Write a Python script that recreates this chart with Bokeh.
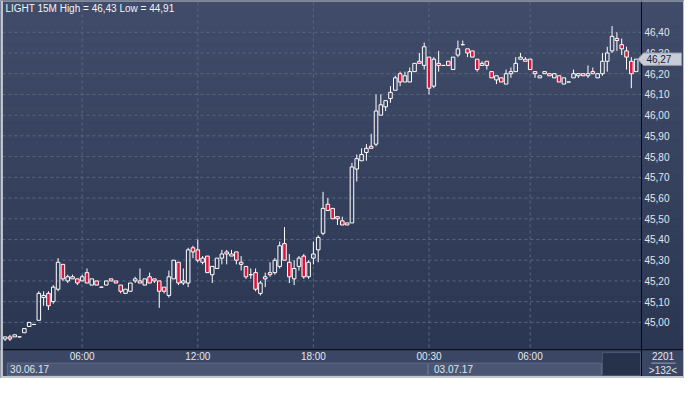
import numpy as np
from bokeh.plotting import figure
from bokeh.models import Range1d
from bokeh.embed import file_html
from bokeh.resources import INLINE
from bokeh.core.properties import value

# ---------------- data (15-minute candles, LIGHT) ----------------
open_ = [44.92, 44.93, 44.93, 44.93, 44.95, 44.98, 44.99, 45.01, 45.12, 45.14,
         45.10, 45.16, 45.28, 45.20, 45.21, 45.21, 45.20, 45.24, 45.18, 45.20,
         45.17, 45.18, 45.21, 45.20, 45.18, 45.14, 45.15, 45.20, 45.20, 45.18,
         45.22, 45.21, 45.20, 45.17, 45.13, 45.21, 45.29, 45.19, 45.19, 45.36,
         45.35, 45.29, 45.32, 45.23, 45.26, 45.31, 45.34, 45.32, 45.34, 45.29,
         45.27, 45.23, 45.24, 45.14, 45.21, 45.24, 45.24, 45.27, 45.38, 45.29,
         45.21, 45.27, 45.32, 45.22, 45.31, 45.35, 45.43, 45.57, 45.55, 45.51,
         45.49, 45.48, 45.48, 45.74, 45.78, 45.82, 45.85, 45.86, 46.00, 46.04,
         46.08, 46.12, 46.20, 46.16, 46.16, 46.21, 46.26, 46.24, 46.28, 46.14,
         46.25, 46.24, 46.26, 46.22, 46.29, 46.34, 46.32, 46.31, 46.27, 46.24,
         46.26, 46.21, 46.17, 46.18, 46.15, 46.20, 46.21, 46.27, 46.27, 46.27,
         46.21, 46.18, 46.20, 46.20, 46.18, 46.19, 46.15, 46.16, 46.18, 46.19,
         46.20, 46.19, 46.21, 46.18, 46.20, 46.26, 46.31, 46.37, 46.34, 46.31,
         46.26, 46.21]
high = [44.93, 44.94, 44.94, 44.93, 44.97, 45.00, 44.99, 45.15, 45.15, 45.15,
        45.18, 45.31, 45.28, 45.23, 45.23, 45.21, 45.23, 45.26, 45.21, 45.20,
        45.17, 45.20, 45.21, 45.20, 45.18, 45.16, 45.19, 45.22, 45.26, 45.21,
        45.24, 45.21, 45.20, 45.17, 45.25, 45.30, 45.29, 45.26, 45.36, 45.37,
        45.40, 45.32, 45.32, 45.27, 45.31, 45.35, 45.35, 45.35, 45.34, 45.32,
        45.27, 45.26, 45.26, 45.20, 45.24, 45.29, 45.31, 45.39, 45.46, 45.33,
        45.30, 45.32, 45.33, 45.30, 45.39, 45.42, 45.63, 45.60, 45.55, 45.51,
        45.51, 45.48, 45.77, 45.81, 45.84, 45.86, 45.91, 46.10, 46.10, 46.07,
        46.14, 46.19, 46.21, 46.21, 46.23, 46.25, 46.30, 46.35, 46.28, 46.28,
        46.31, 46.24, 46.26, 46.28, 46.36, 46.36, 46.32, 46.31, 46.27, 46.26,
        46.26, 46.21, 46.19, 46.18, 46.22, 46.23, 46.28, 46.30, 46.28, 46.27,
        46.21, 46.19, 46.21, 46.20, 46.20, 46.19, 46.18, 46.16, 46.22, 46.20,
        46.20, 46.24, 46.23, 46.20, 46.30, 46.33, 46.43, 46.40, 46.37, 46.33,
        46.28, 46.27]
low = [44.91, 44.91, 44.93, 44.93, 44.95, 44.98, 44.99, 45.01, 45.08, 45.06,
       45.09, 45.15, 45.20, 45.19, 45.21, 45.18, 45.20, 45.19, 45.18, 45.18,
       45.17, 45.18, 45.20, 45.19, 45.14, 45.14, 45.15, 45.19, 45.19, 45.18,
       45.19, 45.19, 45.07, 45.14, 45.12, 45.21, 45.18, 45.18, 45.17, 45.31,
       45.29, 45.28, 45.24, 45.19, 45.26, 45.28, 45.28, 45.32, 45.28, 45.25,
       45.21, 45.21, 45.15, 45.13, 45.17, 45.22, 45.23, 45.26, 45.30, 45.19,
       45.18, 45.25, 45.21, 45.21, 45.28, 45.29, 45.42, 45.54, 45.50, 45.47,
       45.47, 45.47, 45.48, 45.68, 45.78, 45.78, 45.84, 45.85, 46.00, 46.02,
       46.06, 46.12, 46.14, 46.16, 46.16, 46.21, 46.25, 46.22, 46.10, 46.13,
       46.21, 46.24, 46.24, 46.22, 46.28, 46.34, 46.28, 46.28, 46.21, 46.24,
       46.22, 46.18, 46.15, 46.16, 46.15, 46.18, 46.21, 46.27, 46.26, 46.22,
       46.18, 46.18, 46.20, 46.19, 46.18, 46.16, 46.15, 46.16, 46.18, 46.18,
       46.19, 46.18, 46.20, 46.18, 46.19, 46.21, 46.30, 46.31, 46.29, 46.22,
       46.13, 46.21]
close = [44.93, 44.92, 44.94, 44.93, 44.97, 45.00, 44.99, 45.14, 45.13, 45.08,
         45.17, 45.29, 45.21, 45.22, 45.22, 45.19, 45.22, 45.19, 45.21, 45.18,
         45.17, 45.20, 45.20, 45.19, 45.15, 45.16, 45.19, 45.21, 45.19, 45.21,
         45.19, 45.20, 45.15, 45.15, 45.22, 45.30, 45.19, 45.20, 45.35, 45.34,
         45.30, 45.31, 45.24, 45.27, 45.31, 45.33, 45.33, 45.33, 45.30, 45.28,
         45.22, 45.23, 45.16, 45.19, 45.22, 45.23, 45.30, 45.37, 45.30, 45.22,
         45.26, 45.31, 45.22, 45.29, 45.33, 45.41, 45.55, 45.54, 45.50, 45.50,
         45.47, 45.47, 45.75, 45.79, 45.81, 45.84, 45.84, 46.02, 46.05, 46.07,
         46.11, 46.18, 46.16, 46.19, 46.21, 46.25, 46.25, 46.33, 46.13, 46.27,
         46.24, 46.24, 46.24, 46.28, 46.32, 46.34, 46.30, 46.28, 46.22, 46.25,
         46.24, 46.18, 46.19, 46.16, 46.20, 46.21, 46.25, 46.28, 46.26, 46.22,
         46.20, 46.19, 46.21, 46.19, 46.20, 46.16, 46.18, 46.16, 46.20, 46.20,
         46.19, 46.20, 46.20, 46.20, 46.26, 46.30, 46.38, 46.36, 46.32, 46.28,
         46.20, 46.27]

symbol = "LIGHT 15M"
y_ticks = [45.0, 45.1, 45.2, 45.3, 45.4, 45.5, 45.6, 45.7, 45.8, 45.9,
           46.0, 46.1, 46.2, 46.3, 46.4]
x_tick_idx = [16, 40, 64, 88, 109]
x_tick_labels = ["06:00", "12:00", "18:00", "00:30", "06:00"]
date_start_idx = [0, 88]
date_labels = ["30.06.17", "03.07.17"]
bar_count_label = "2201"

# ---------------- layout constants (reference pixel geometry, 700 x 394) ----------------
W, H = 684, 378
REF_W, REF_H = 700, 394
REF_Y_45 = 335.5      # reference pixel row of 45.00
PX_PER_PRICE = 216.0  # reference pixels per 1.00
REF_X_BAR0 = 4.7      # reference pixel column of first bar
PX_PER_BAR = 4.93
PLOT_R = 656          # right edge of price area (axis line)
PLOT_B = 364          # bottom edge of price area


def fmt(v):
    return f"{v:.2f}".replace(".", ",")


def price_to_ref_y(v):
    return REF_Y_45 - (v - 45.0) * PX_PER_PRICE


o = np.array(open_); h = np.array(high); l = np.array(low); c = np.array(close)
idx = np.arange(len(c))
body_top = np.maximum(o, c)
body_bot = np.minimum(o, c)
up = c >= o

p = figure(width=W, height=H, output_backend="svg", toolbar_location=None,
           x_axis_location=None, y_axis_location=None,
           x_range=Range1d((0 - REF_X_BAR0) / PX_PER_BAR, (REF_W - REF_X_BAR0) / PX_PER_BAR),
           y_range=Range1d(45 + (REF_Y_45 - REF_H) / PX_PER_PRICE, 45 + REF_Y_45 / PX_PER_PRICE),
           min_border_left=0, min_border_top=0, min_border_bottom=0, min_border_right=0,
           background_fill_color="#35415d", border_fill_color="#35415d")
p.outline_line_color = None
p.grid.visible = False
p.extra_x_ranges = {"px": Range1d(0, REF_W)}
p.extra_y_ranges = {"py": Range1d(REF_H, 0)}

# gradient background
n_bands = 40
edges = np.linspace(0, PLOT_B, n_bands + 1)
top_rgb = np.array([0x40, 0x4c, 0x69], dtype=float)
bot_rgb = np.array([0x2b, 0x37, 0x52], dtype=float)
band_cols = ["#%02x%02x%02x" % tuple(int(round(v)) for v in top_rgb + (bot_rgb - top_rgb) * t)
             for t in np.linspace(0, 1, n_bands)]
p.quad(left=0, right=REF_W, top=edges[:-1], bottom=edges[1:], x_range_name="px", y_range_name="py",
       fill_color=band_cols, line_color=band_cols, line_width=1, level="image")

# grid lines (dashed), limited to the price area
grid_col = "#5a6683"
p.segment(x0=2, x1=PLOT_R, y0=y_ticks, y1=y_ticks, x_range_name="px",
          line_color=grid_col, line_dash="3 3", line_width=1, level="underlay")
p.segment(x0=x_tick_idx, x1=x_tick_idx, y0=2, y1=PLOT_B, y_range_name="py",
          line_color=grid_col, line_dash="3 3", line_width=1, level="underlay")

# candles: wicks
p.segment(x0=idx, y0=h, x1=idx, y1=body_top, line_color="white", line_width=1)
p.segment(x0=idx, y0=body_bot, x1=idx, y1=l, line_color="white", line_width=1)
# bodies
hw = 0.37
p.quad(left=idx[up] - hw, right=idx[up] + hw, top=body_top[up], bottom=body_bot[up],
       fill_color=None, line_color="white", line_width=1)
p.quad(left=idx[~up] - hw, right=idx[~up] + hw, top=body_top[~up], bottom=body_bot[~up],
       fill_color="#dc143c", line_color="white", line_width=1)

# bottom time / date rows
p.quad(left=0, right=REF_W, top=PLOT_B, bottom=REF_H, x_range_name="px", y_range_name="py",
       fill_color="#3a4663", line_color=None)
p.quad(left=[7, 438], right=[437, 615], top=378, bottom=391, x_range_name="px", y_range_name="py",
       fill_color="#4a5673", line_color="#5f6b87", line_width=1)
p.quad(left=616, right=655, top=367, bottom=391, x_range_name="px", y_range_name="py",
       fill_color="#26314a", line_color="#4b5773", line_width=1)
# frame lines: horizontal under the price area, vertical axis line
p.segment(x0=0, y0=PLOT_B, x1=REF_W, y1=PLOT_B, x_range_name="px", y_range_name="py",
          line_color="#05080f", line_width=1)
p.segment(x0=PLOT_R, y0=0, x1=PLOT_R, y1=REF_H, x_range_name="px", y_range_name="py",
          line_color="#05080f", line_width=1)

txt_col = "#e2e6ee"
font = value("Liberation Sans")
# time and date labels
p.text(x=x_tick_idx, y=[371] * len(x_tick_idx), text=x_tick_labels, y_range_name="py",
       text_align="center", text_baseline="middle", text_color=txt_col,
       text_font=font, text_font_size="10px")
p.text(x=date_start_idx, y=[384.5] * len(date_start_idx), text=date_labels, y_range_name="py",
       x_offset=5, text_align="left", text_baseline="middle", text_color=txt_col,
       text_font=font, text_font_size="10px")

# price axis labels (right)
p.text(x=[659] * len(y_ticks), y=y_ticks, text=[fmt(t) for t in y_ticks], x_range_name="px",
       text_align="left", text_baseline="middle", text_color=txt_col,
       text_font=font, text_font_size="10px")

# last price tag with arrow
ty = price_to_ref_y(close[-1])
p.patch(x=[652, 658, 697, 697, 658], y=[ty, ty - 6.5, ty - 6.5, ty + 6.5, ty + 6.5],
        x_range_name="px", y_range_name="py",
        fill_color="#c9cdd5", line_color="#8e97a8", line_width=1)
p.text(x=[661], y=[ty], text=[fmt(close[-1])], x_range_name="px", y_range_name="py",
       text_align="left", text_baseline="middle", text_color="#16203a",
       text_font=font, text_font_size="10px")

# title
title = f"{symbol} High = {fmt(max(high))} Low = {fmt(min(low))}"
p.text(x=[5], y=[8.5], text=[title], x_range_name="px", y_range_name="py",
       text_align="left", text_baseline="middle", text_color="#f2f4f7",
       text_font=font, text_font_size="10px")

# bottom-right counters
p.text(x=[678, 678], y=[371, 385.5], text=[bar_count_label, f">{len(close)}<"],
       x_range_name="px", y_range_name="py", text_align="center", text_baseline="middle",
       text_color=txt_col, text_font=font, text_font_size="10px")
p.segment(x0=666, x1=691, y0=378, y1=378, x_range_name="px", y_range_name="py",
          line_color="#9aa3b5", line_width=1)

# outer light frame
frame_col = "#c3c7cf"
p.quad(left=[0, 0, 0, REF_W - 1.5], right=[2.5, REF_W, REF_W, REF_W],
       top=[0, 0, REF_H - 2.5, 0], bottom=[REF_H, 1, REF_H, REF_H],
       x_range_name="px", y_range_name="py", fill_color=frame_col, line_color=None)

open("out.html", "w").write(file_html(p, INLINE))
